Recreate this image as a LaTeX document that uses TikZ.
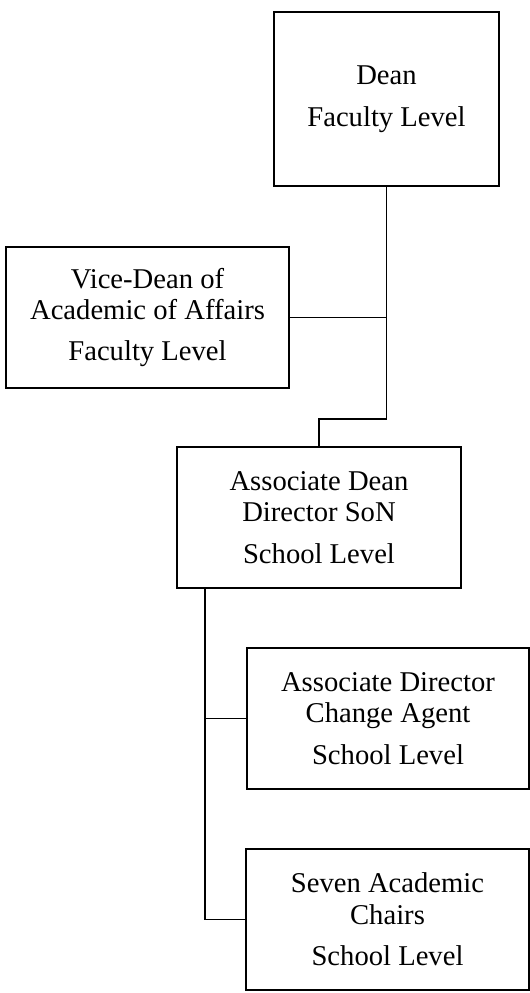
\documentclass[tikz,border=0pt]{standalone}
\usepackage{fontspec}
\setmainfont{Liberation Serif}
\usepackage{tikz}
\usetikzlibrary{positioning}

\begin{document}
\begin{tikzpicture} [
	x=0.02cm, y=-0.02cm, % one unit is one pixel of the 530x993 layout, y runs down
	line width=1.1pt,
	every node/.style={font=\fontsize{16.3}{17.9}\selectfont, align=center, inner sep=0pt},
	post/.style={draw, minimum width=5.66cm, minimum height=2.82cm}, % sets the properties for each office box
	]
	\useasboundingbox (0,0) rectangle (530,993);
	\node[post, minimum width=4.5cm, minimum height=3.48cm] (dean) at (386.5,99) {Dean\\[5.7pt]Faculty Level};
	\node[post] (vice) at (147.5,317.5) {Vice-Dean of\\Academic of Affairs\\[5.7pt]Faculty Level};
	\node[post, minimum width=5.68cm] (assoc) at (319,517.5) {Associate Dean\\Director SoN\\[5.7pt]School Level};
	\node[post, minimum width=5.64cm] (agent) at (388,718.5) {Associate Director\\Change Agent\\[5.7pt]School Level};
	\node[post] (chairs) at (387.5,919.5) {Seven Academic\\Chairs\\[5.7pt]School Level};
	\coordinate (trunk) at (205,588);
	\draw
		(dean.south) -- ++(0,232) -| (assoc.north)
		(vice.east) -- (vice.east -| dean.south)

		(trunk) |- (agent.west)
		(trunk) |- (chairs.west)
	;
\end{tikzpicture}
\end{document}
